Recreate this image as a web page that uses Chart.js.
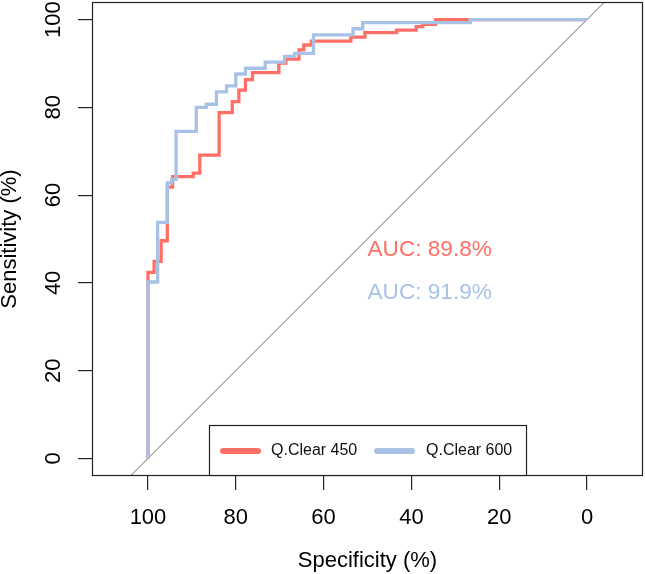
<!DOCTYPE html>
<html>
<head>
<meta charset="utf-8">
<script src="https://cdn.jsdelivr.net/npm/chart.js@4/dist/chart.umd.min.js"></script>
<style>
  body { margin: 0; background: #fff; }
</style>
</head>
<body>
<canvas id="roc" width="645" height="574"></canvas>
<script>
// DATA (specificity where the curve steps up, sensitivity it steps up to)
const redName = "Q.Clear 450";
const redSpec = [100, 98.6, 97.0, 95.6, 94.4, 89.7, 88.2, 83.8, 80.8, 79.3, 77.8, 76.2, 70.2, 68.6, 65.6, 64.5, 62.8, 53.8, 50.6, 43.4, 38.9, 37.4, 34.5, 0];
const redSens = [42.4, 44.9, 49.6, 61.8, 64.2, 65.0, 69.1, 78.8, 81.3, 83.9, 86.3, 87.9, 90.1, 91.0, 93.1, 94.2, 95.1, 96.0, 97.0, 97.6, 98.4, 98.9, 100, 100];

const blueName = "Q.Clear 600";
const blueSpec = [100, 97.8, 95.6, 94.6, 93.6, 89.0, 86.7, 84.4, 82.1, 80.0, 77.8, 73.3, 68.9, 66.6, 62.3, 53.3, 51.1, 26.6, 0];
const blueSens = [40.2, 53.8, 62.8, 63.6, 74.5, 80.0, 80.7, 83.5, 84.9, 87.6, 88.9, 90.3, 91.6, 92.3, 96.5, 97.9, 99.3, 100, 100];

// identity line (sens = 100 - spec), clipped by the plot box
const diagSpec = [120, -20];
const diagSens = [-20, 120];

const aucLabels = ["AUC: 89.8%", "AUC: 91.9%"];
const aucX = 50;
const aucY = [50, 40];

const xTicks = [100, 80, 60, 40, 20, 0];
const yTicks = [0, 20, 40, 60, 80, 100];

// STYLE
const RED = "#FF6F66";
const BLUE = "#A7C2E5";
const FONT = "'Liberation Sans', Arial, Helvetica, sans-serif";

function stepPoints(spec, sens) {
  const pts = [{ x: 100, y: 0 }];
  spec.forEach((s, i) => pts.push({ x: s, y: sens[i] }));
  return pts;
}

// EXTRAS: box, rotated y labels, AUC text, legend
const extras = {
  id: "extras",
  afterDraw(chart) {
    const { ctx, chartArea: a, scales } = chart;
    ctx.save();

    ctx.strokeStyle = "#222";
    ctx.lineWidth = 1.2;
    ctx.strokeRect(a.left + 0.5, a.top + 0.5, a.right - a.left - 1, a.bottom - a.top - 1);

    ctx.fillStyle = "#000";
    ctx.font = "22px " + FONT;
    ctx.textAlign = "center";
    ctx.textBaseline = "alphabetic";
    yTicks.forEach((v) => {
      ctx.save();
      ctx.translate(60, scales.y.getPixelForValue(v));
      ctx.rotate(-Math.PI / 2);
      ctx.fillText(String(v), 0, 0);
      ctx.restore();
    });

    ctx.textAlign = "left";
    ctx.font = "22.6px " + FONT;
    [RED, BLUE].forEach((c, i) => {
      ctx.fillStyle = c;
      ctx.fillText(aucLabels[i], scales.x.getPixelForValue(aucX), scales.y.getPixelForValue(aucY[i]) + 16.5);
    });

    // legend
    const w = 317, h = 51;
    const lx = (a.left + a.right) / 2 - w / 2;
    const ly = a.bottom - h;
    ctx.fillStyle = "#fff";
    ctx.fillRect(lx, ly, w, h);
    ctx.strokeStyle = "#222";
    ctx.lineWidth = 1.2;
    ctx.strokeRect(lx + 0.5, ly + 0.5, w, h - 1);
    const my = ly + 26;
    ctx.lineWidth = 6;
    ctx.lineCap = "round";
    [[RED, 14, redName, 62], [BLUE, 168, blueName, 217]].forEach(([c, x0, name, tx]) => {
      ctx.strokeStyle = c;
      ctx.beginPath();
      ctx.moveTo(lx + x0, my);
      ctx.lineTo(lx + x0 + 35, my);
      ctx.stroke();
      ctx.fillStyle = "#111";
      ctx.font = "16px " + FONT;
      ctx.textBaseline = "middle";
      ctx.fillText(name, lx + tx, my);
    });

    ctx.restore();
  },
};

// CHART
new Chart(document.getElementById("roc"), {
  type: "scatter",
  data: {
    datasets: [
      {
        label: "diag",
        data: diagSpec.map((s, i) => ({ x: s, y: diagSens[i] })),
        showLine: true,
        borderColor: "#A8A8A8",
        borderWidth: 1.3,
        pointRadius: 0,
        order: 3,
      },
      {
        label: redName,
        data: stepPoints(redSpec, redSens),
        showLine: true,
        stepped: "before",
        borderColor: RED,
        borderWidth: 3.3,
        pointRadius: 0,
        order: 2,
      },
      {
        label: blueName,
        data: stepPoints(blueSpec, blueSens),
        showLine: true,
        stepped: "before",
        borderColor: BLUE,
        borderWidth: 3.3,
        pointRadius: 0,
        order: 1,
      },
    ],
  },
  options: {
    responsive: false,
    animation: false,
    devicePixelRatio: 1,
    layout: { padding: { top: 2, right: 2, left: 0, bottom: 0 } },
    plugins: { legend: { display: false }, tooltip: { enabled: false } },
    scales: {
      x: {
        type: "linear",
        reverse: true,
        min: -12.75,
        max: 112.75,
        afterBuildTicks: (s) => { s.ticks = xTicks.map((v) => ({ value: v })); },
        afterFit: (s) => { s.height = 98; },
        border: { display: false },
        grid: { drawOnChartArea: false, tickLength: 14, color: "#222", lineWidth: 1.2 },
        ticks: { color: "#000", font: { size: 22, family: FONT }, padding: 15, maxRotation: 0, autoSkip: false },
        title: { display: true, text: "Specificity (%)", color: "#000", font: { size: 22, family: FONT }, padding: 0 },
      },
      y: {
        type: "linear",
        min: -4,
        max: 104,
        afterBuildTicks: (s) => { s.ticks = yTicks.map((v) => ({ value: v })); },
        afterFit: (s) => { s.width = 92; },
        border: { display: false },
        grid: { drawOnChartArea: false, tickLength: 14, color: "#222", lineWidth: 1.2 },
        ticks: { display: false },
        title: { display: true, text: "Sensitivity (%)", color: "#000", font: { size: 22, family: FONT }, padding: { top: -3 } },
      },
    },
  },
  plugins: [extras],
});
</script>
</body>
</html>
